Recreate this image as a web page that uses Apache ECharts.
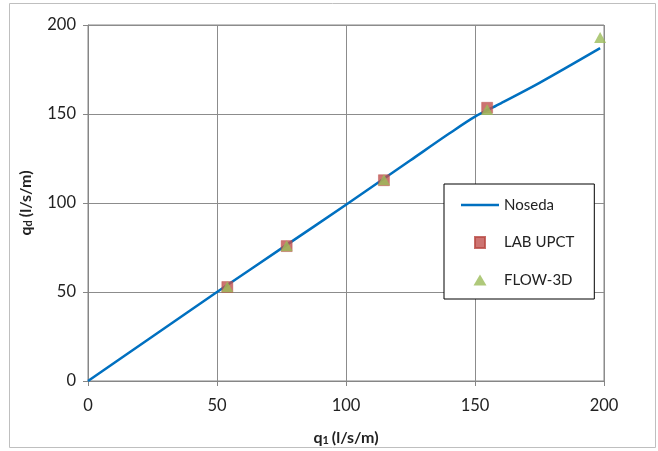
<!DOCTYPE html>
<html>
<head>
<meta charset="utf-8">
<script src="https://cdn.jsdelivr.net/npm/echarts@6/dist/echarts.min.js"></script>
<style>
  html, body { margin: 0; padding: 0; background: #fff; }
  #chart { width: 658px; height: 451px; }
</style>
</head>
<body>
<div id="chart"></div>
<script>
// Noseda curve (q1, qd)
const nosedaQ1 = [0, 25, 50, 75, 100, 125, 140, 150, 160, 175, 198.5]
const nosedaQd = [0, 25, 50, 74.5, 99, 124, 139, 148.5, 156, 167.5, 187]
// Laboratory measurements
const labQ1 = [54, 77, 114.7, 154.7]
const labQd = [52.8, 75.8, 112.8, 153.5]
// FLOW-3D results
const flowQ1 = [54, 77, 114.7, 154.7, 198.5]
const flowQd = [53, 76, 113, 152.5, 193]

const pairs = (xs, ys) => xs.map((x, i) => [x, ys[i]])

const chart = echarts.init(document.getElementById('chart'))
const font = 'Lato, "Open Sans", sans-serif'

const nameRich = {
  b: { fontSize: 16, fontWeight: 'bold', color: '#222', fontFamily: font },
  s: { fontSize: 11, fontWeight: 'bold', color: '#222', fontFamily: font, verticalAlign: 'bottom', padding: [6, 3, 0, 0] }
}

chart.setOption({
  animation: false,
  textStyle: { fontFamily: font },
  graphic: [{
    type: 'rect',
    shape: { x: 9.5, y: 3.5, width: 646, height: 444 },
    style: { fill: 'none', stroke: '#bfbfbf', lineWidth: 1 },
    silent: true
  }],
  grid: {
    left: 88, right: 54, top: 25, bottom: 69,
    show: true, borderColor: '#868686', borderWidth: 1
  },
  xAxis: {
    type: 'value', min: 0, max: 200, interval: 50,
    name: '{b|q}{s|1}{b|(l/s/m)}',
    nameLocation: 'middle', nameGap: 48,
    nameTextStyle: { rich: nameRich },
    axisLine: { onZero: false, lineStyle: { color: '#868686', width: 1 } },
    axisTick: { show: true, length: 5, lineStyle: { color: '#868686' } },
    axisLabel: { fontSize: 16.5, color: '#222', margin: 16 },
    splitLine: { lineStyle: { color: '#8c8c8c', width: 1 } }
  },
  yAxis: {
    type: 'value', min: 0, max: 200, interval: 50,
    name: '{b|q}{s|d}{b|(l/s/m)}',
    nameLocation: 'middle', nameGap: 54, nameRotate: 90,
    nameTextStyle: { rich: nameRich },
    axisLine: { show: true, onZero: false, lineStyle: { color: '#868686', width: 1 } },
    axisTick: { show: true, length: 5, lineStyle: { color: '#868686' } },
    axisLabel: { fontSize: 16.5, color: '#222', margin: 12 },
    splitLine: { lineStyle: { color: '#8c8c8c', width: 1 } }
  },
  legend: {
    orient: 'vertical',
    left: 444, top: 184,
    padding: [13, 20, 11, 17],
    itemGap: 21.5,
    itemWidth: 38, itemHeight: 11,
    symbolKeepAspect: true,
    backgroundColor: '#fff',
    borderColor: '#000', borderWidth: 1,
    textStyle: { fontSize: 15, lineHeight: 16, color: '#222', fontFamily: font },
    data: [
      { name: 'Noseda', icon: 'path://M0,0 L38,0 L38,2.5 L0,2.5 Z', itemStyle: { color: '#0070c0' } },
      { name: 'LAB UPCT', icon: 'path://M0,0 L10,0 L10,11 L0,11 Z', itemStyle: { color: '#c0504d' } },
      { name: 'FLOW-3D', icon: 'path://M6.5,0 L13,11 L0,11 Z', itemStyle: { color: '#9bbb59' } }
    ]
  },
  series: [
    {
      name: 'Noseda',
      type: 'line',
      data: pairs(nosedaQ1, nosedaQd),
      smooth: 0.3,
      symbol: 'none',
      lineStyle: { color: '#0070c0', width: 2.5 },
      itemStyle: { color: '#0070c0' },
      z: 2
    },
    {
      name: 'LAB UPCT',
      type: 'scatter',
      data: pairs(labQ1, labQd),
      symbol: 'rect',
      symbolSize: 11,
      itemStyle: { color: '#c0504d', borderColor: '#b84844', borderWidth: 0.5 },
      z: 3
    },
    {
      name: 'FLOW-3D',
      type: 'scatter',
      data: pairs(flowQ1, flowQd),
      symbol: 'triangle',
      symbolSize: [12, 11],
      itemStyle: { color: '#9bbb59' },
      z: 4
    }
  ]
})
</script>
</body>
</html>
